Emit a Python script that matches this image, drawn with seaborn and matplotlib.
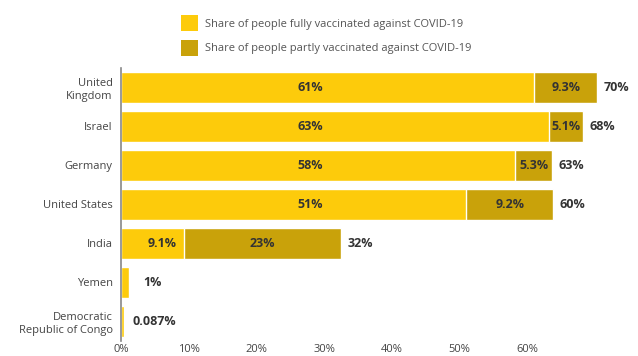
import matplotlib
matplotlib.use("Agg")
import matplotlib.pyplot as plt
import seaborn as sns
import pandas as pd
from matplotlib.patches import Patch

countries = ["United\nKingdom", "Israel", "Germany", "United States", "India", "Yemen",
             "Democratic\nRepublic of Congo"]
# bar lengths as drawn in the picture (percent)
full = [61, 63.2, 58.2, 51, 9.3, 1.2, 0.4]
partial = [9.3, 5.0, 5.5, 12.8, 23.2, 0, 0]
full_labels = ["61%", "63%", "58%", "51%", "9.1%", "", ""]
partial_labels = ["9.3%", "5.1%", "5.3%", "9.2%", "23%", "", ""]
total_labels = ["70%", "68%", "63%", "60%", "32%", "1%", "0.087%"]
xticks = [0, 10, 20, 30, 40, 50, 60]
legend_labels = ["Share of people fully vaccinated against COVID-19",
                 "Share of people partly vaccinated against COVID-19"]

C_FULL = "#FDCB0B"
C_PART = "#C9A20A"
TXT = "#333333"

sns.set_theme(style="white")
plt.rcParams["font.family"] = ["Open Sans", "DejaVu Sans"]

df = pd.DataFrame({"country": countries, "full": full, "partial": partial})
df["total"] = df["full"] + df["partial"]

fig = plt.figure(figsize=(6.38, 3.56), dpi=100)
ax = fig.add_axes([121 / 638, 1 - 341 / 356, (629 - 121) / 638, 273 / 356])

sns.barplot(data=df, x="total", y="country", color=C_PART, orient="h", width=0.8,
            saturation=1, ax=ax)
sns.barplot(data=df, x="full", y="country", color=C_FULL, orient="h", width=0.8,
            saturation=1, ax=ax)

for i, row in df.iterrows():
    if full_labels[i]:
        cx = min(28, row["full"] - 3.2)
        ax.text(cx, i, full_labels[i], ha="center", va="center", fontsize=9,
                fontweight="bold", color=TXT)
    if partial_labels[i]:
        ax.text(row["full"] + row["partial"] / 2, i, partial_labels[i], ha="center",
                va="center", fontsize=9, fontweight="bold", color=TXT)
    ax.annotate(total_labels[i], (row["total"], i),
                xytext=(4.5 if row["total"] > 2 else (10 if row["total"] > 1 else 6.5), 0),
                textcoords="offset points", ha="left", va="center", fontsize=9,
                fontweight="bold", color=TXT)

ax.set_xlim(0, 75)
ax.set_ylim(6.5, -0.5)
ax.set_xticks(xticks)
ax.set_xticklabels([f"{t}%" for t in xticks])
ax.set_xlabel("")
ax.set_ylabel("")
ax.tick_params(axis="both", length=0, labelsize=8, labelcolor="#444444")
ax.tick_params(axis="y", pad=6)
ax.tick_params(axis="x", pad=2)
for lab in ax.get_yticklabels():
    lab.set_multialignment("right")
for s in ["top", "right", "bottom"]:
    ax.spines[s].set_visible(False)
ax.spines["left"].set_color("#888888")
ax.spines["left"].set_linewidth(1.2)

handles = [Patch(facecolor=C_FULL, edgecolor="none"), Patch(facecolor=C_PART, edgecolor="none")]
fig.legend(handles, legend_labels, loc="upper left", bbox_to_anchor=(173 / 638, 1 - 7 / 356),
           frameon=False, fontsize=8, labelcolor="#555555", handlelength=1.55,
           handleheight=1.9, handletextpad=0.6, labelspacing=0.75, borderpad=0.2)

fig.savefig("out.png", dpi=100)
